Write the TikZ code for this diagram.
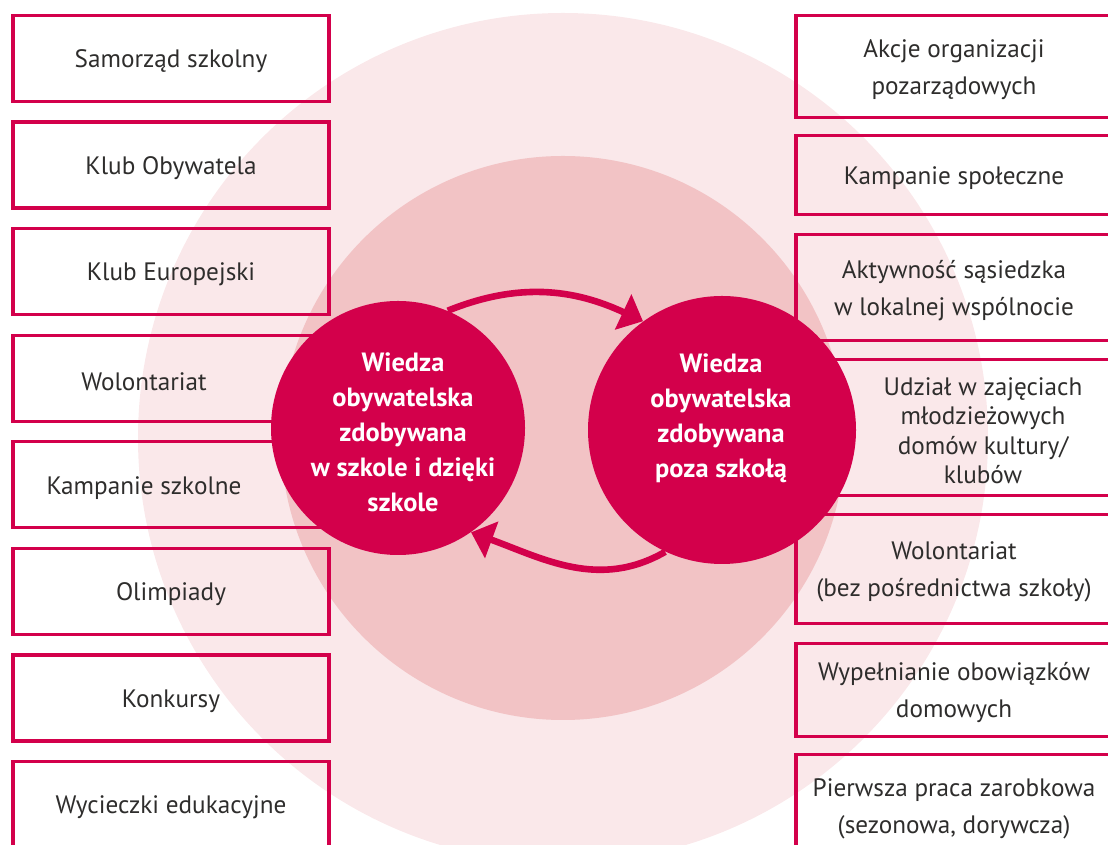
\documentclass[tikz,border=0pt]{standalone}
\usepackage{fontspec}
\setmainfont{PT Sans}
\usetikzlibrary{arrows.meta,positioning}

\definecolor{crimson}{HTML}{D3004B}
\definecolor{rosemid}{HTML}{F2C3C5}
\definecolor{roselight}{HTML}{FAE8EA}
\definecolor{txtgray}{HTML}{2E2D2C}

\tikzset{
  entry/.style={draw=crimson, line width=1.6pt, minimum width=158pt, inner sep=0pt},
  entrytext/.style={text=txtgray, align=center, yshift=-1.5pt, font=\fontsize{12.6}{18.5}\selectfont},
  knowledge/.style={circle, fill=crimson, inner sep=0pt},
  knowtext/.style={text=white, align=center, font=\bfseries\fontsize{13.2}{17.5}\selectfont},
  loopflow/.style={-{Triangle[length=11pt,width=19pt]}, draw=crimson, line width=3.3pt},
}

\begin{document}
\begin{tikzpicture}[x=0.5pt, y=0.5pt]
\useasboundingbox (0,0) rectangle (1108,845);
\clip (0,0) rectangle (1108,845);

% background discs
\node[circle, fill=roselight, inner sep=0pt, minimum size=425pt, name=outer] at (563,407) {};
\node[circle, fill=rosemid, inner sep=0pt, minimum size=282pt, name=middle] at (563,407) {};

% left column
\node[entry, minimum height=43pt, name=l1] at (171,786.5) {};
\node[entry, minimum height=43pt, name=l2] at (171,679.9) {};
\node[entry, minimum height=43pt, name=l3] at (171,573.3) {};
\node[entry, minimum height=43pt, name=l4] at (171,466.7) {};
\node[entry, minimum height=43pt, name=l5] at (171,360.1) {};
\node[entry, minimum height=43pt, name=l6] at (171,253.5) {};
\node[entry, minimum height=43pt, name=l7] at (171,146.9) {};
\node[entry, minimum height=43pt, name=l8] at (171,40.3) {};

\node[entrytext] at (l1) {Samorząd szkolny};
\node[entrytext] at (l2) {Klub Obywatela};
\node[entrytext] at (l3) {Klub Europejski};
\node[entrytext] at (144,466.7) {Wolontariat};
\node[entrytext] at (144,360.1) {Kampanie szkolne};
\node[entrytext] at (l6) {Olimpiady};
\node[entrytext] at (l7) {Konkursy};
\node[entrytext] at (l8) {Wycieczki edukacyjne};

% right column
\node[entry, minimum height=51pt, name=r1] at (954,778.5) {};
\node[entry, minimum height=39.5pt, name=r2] at (954,670) {};
\node[entry, minimum height=53pt, name=r3] at (954,557.5) {};
\node[entry, minimum height=68pt, name=r4] at (954,417.5) {};
\node[entry, minimum height=54.5pt, name=r5] at (954,276) {};
\node[entry, minimum height=46.5pt, name=r6] at (954,155) {};
\node[entry, minimum height=51pt, name=r7] at (954,39.5) {};

\node[entrytext] at (r1) {Akcje organizacji\\pozarządowych};
\node[entrytext] at (r2) {Kampanie społeczne};
\node[entrytext] at (r3) {Aktywność sąsiedzka\\w lokalnej wspólnocie};
\node[entrytext, font=\fontsize{12.6}{14.75}\selectfont] at (983,417.5) {Udział w zajęciach\\młodzieżowych\\domów kultury/\\klubów};
\node[entrytext] at (r5) {Wolontariat\\(bez pośrednictwa szkoły)};
\node[entrytext] at (r6) {Wypełnianie obowiązków\\domowych};
\node[entrytext] at (r7) {Pierwsza praca zarobkowa\\(sezonowa, dorywcza)};

% the two kinds of knowledge
\node[knowledge, minimum size=127pt, name=school] at (398,417) {};
\node[knowledge, minimum size=134pt, name=beyond] at (722,415) {};
\node[knowtext] at (403,413) {Wiedza\\obywatelska\\zdobywana\\w szkole i dzięki\\szkole};
\node[knowtext] at (721,427) {Wiedza\\obywatelska\\zdobywana\\poza szkołą};

\draw[loopflow] (school.67) to[out=22, in=155] (beyond.126);
\draw[loopflow] (beyond.245) to[out=210, in=-20] (school.-55);
\end{tikzpicture}
\end{document}
